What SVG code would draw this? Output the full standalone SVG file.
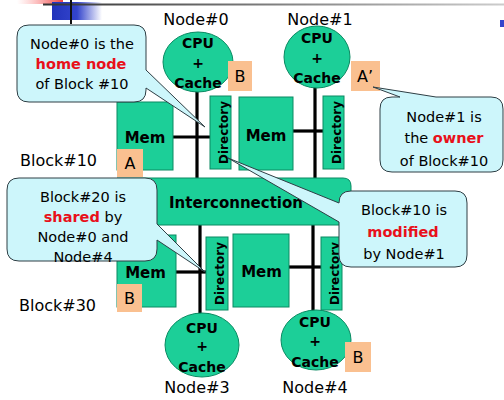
<svg xmlns="http://www.w3.org/2000/svg" width="504" height="400" viewBox="0 0 504 400">
<defs>
<linearGradient id="gLine" x1="0" y1="0" x2="1" y2="0"><stop offset="0" stop-color="#333"/><stop offset="1" stop-color="#ccc"/></linearGradient>
<linearGradient id="gBlue" x1="0" y1="0" x2="1" y2="0"><stop offset="0" stop-color="#2233bb"/><stop offset="0.5" stop-color="#3344cc"/><stop offset="1" stop-color="#3344cc" stop-opacity="0"/></linearGradient>
<linearGradient id="gRed" x1="0" y1="0" x2="1" y2="0"><stop offset="0" stop-color="#ff8888" stop-opacity="0"/><stop offset="1" stop-color="#ee4444"/></linearGradient>
</defs>
<style>
.g{fill:#1ccf98;stroke:#0a8a62;stroke-width:1}
.o{fill:#fac090}
.w{stroke:#000;stroke-width:3.2;fill:none}
.t{font-family:"DejaVu Sans",Verdana,sans-serif;fill:#000}
.b{font-family:"DejaVu Sans",Verdana,sans-serif;font-weight:bold;fill:#000}
.lab{font-size:16px}
.cpu{font-size:14px;text-anchor:middle}
.mem{font-size:15px;text-anchor:middle}
.dir{font-size:12px;text-anchor:middle}
.co{fill:#cdf6fb;stroke:#2e3e44;stroke-width:1}
.ct{font-size:14.5px;text-anchor:middle}
.red{fill:#e8101a;font-weight:bold}
</style>
<g id="decor">
<rect x="17" y="0" width="46" height="4" fill="url(#gRed)"/>
<rect x="52" y="2" width="50" height="18" fill="url(#gBlue)"/>
<rect x="43" y="3.5" width="461" height="2" fill="url(#gLine)"/>
<rect x="70" y="0" width="2" height="24" fill="#111"/>
<rect x="500" y="20" width="4" height="7" fill="#3344cc"/>
</g>
<g id="connectors">
<line class="w" x1="197" y1="90" x2="197" y2="179"/>
<line class="w" x1="173" y1="137" x2="210" y2="137"/>
<line class="w" x1="315" y1="86" x2="315" y2="179"/>
<line class="w" x1="293" y1="131" x2="323" y2="131"/>
<line class="w" x1="200" y1="224" x2="200" y2="316"/>
<line class="w" x1="176" y1="272" x2="206" y2="272"/>
<line class="w" x1="313" y1="224" x2="313" y2="312"/>
<line class="w" x1="289" y1="267" x2="321" y2="267"/>
</g>
<g id="interconnect">
<path class="g" d="M117,178 H343 Q351,178 351,186 V225 H117 Z"/>
<text class="b mem" x="236" y="208">Interconnection</text>
</g>
<g id="node0">
<text class="t lab" x="196" y="25" text-anchor="middle">Node#0</text>
<ellipse class="g" cx="198" cy="62" rx="35" ry="30"/>
<text class="b cpu" x="198" y="48">CPU</text>
<text class="b cpu" x="198" y="68">+</text>
<text class="b cpu" x="198" y="88">Cache</text>
<rect class="o" x="228" y="61" width="24" height="30"/>
<text class="t lab" x="240" y="82" text-anchor="middle">B</text>
<rect class="g" x="117" y="102" width="56" height="68"/>
<text class="b mem" x="145" y="143">Mem</text>
<rect class="o" x="117" y="149" width="26" height="28"/>
<text class="t lab" x="130" y="169" text-anchor="middle">A</text>
<rect class="g" x="210" y="96" width="21" height="73"/>
<text class="b dir" transform="translate(228,132.5) rotate(-90)">Directory</text>
</g>
<g id="node1">
<text class="t lab" x="320" y="25" text-anchor="middle">Node#1</text>
<ellipse class="g" cx="317" cy="57" rx="33" ry="31"/>
<text class="b cpu" x="317" y="43">CPU</text>
<text class="b cpu" x="317" y="62.5">+</text>
<text class="b cpu" x="317" y="83">Cache</text>
<rect class="o" x="351" y="61" width="29" height="30"/>
<text class="t lab" x="365" y="82" text-anchor="middle">A’</text>
<rect class="g" x="239" y="97" width="54" height="73"/>
<text class="b mem" x="266" y="141">Mem</text>
<rect class="g" x="323" y="96" width="21" height="73"/>
<text class="b dir" transform="translate(341,132.5) rotate(-90)">Directory</text>
</g>
<g id="node3">
<text class="t lab" x="197" y="393" text-anchor="middle">Node#3</text>
<ellipse class="g" cx="202" cy="345" rx="37" ry="32"/>
<text class="b cpu" x="202" y="333">CPU</text>
<text class="b cpu" x="202" y="351">+</text>
<text class="b cpu" x="202" y="372">Cache</text>
<rect class="g" x="117" y="235" width="59" height="72"/>
<text class="b mem" x="145.5" y="278">Mem</text>
<rect class="o" x="117" y="284" width="25" height="28"/>
<text class="t lab" x="129.5" y="304" text-anchor="middle">B</text>
<rect class="g" x="206" y="237" width="22" height="73"/>
<text class="b dir" transform="translate(224,273.5) rotate(-90)">Directory</text>
</g>
<g id="node4">
<text class="t lab" x="315" y="393" text-anchor="middle">Node#4</text>
<ellipse class="g" cx="316" cy="340" rx="35" ry="30"/>
<text class="b cpu" x="315" y="327">CPU</text>
<text class="b cpu" x="315" y="346">+</text>
<text class="b cpu" x="315" y="367">Cache</text>
<rect class="o" x="345" y="342" width="26" height="30"/>
<text class="t lab" x="358" y="363" text-anchor="middle">B</text>
<rect class="g" x="233" y="234" width="56" height="73"/>
<text class="b mem" x="261.5" y="277">Mem</text>
<rect class="g" x="321" y="237" width="21" height="73"/>
<text class="b dir" transform="translate(339,273.5) rotate(-90)">Directory</text>
</g>
<g id="labels">
<text class="t lab" x="20" y="166">Block#10</text>
<text class="t lab" x="19" y="311">Block#30</text>
</g>
<g id="callout-home">
<path class="co" d="M29,25 H134 Q146,25 146,37 V70 L205,127 L146,88 V90 Q146,102 134,102 H29 Q17,102 17,90 V37 Q17,25 29,25 Z"/>
<text class="t ct" x="82" y="49">Node#0 is the</text>
<text class="t ct red" x="81" y="69">home node</text>
<text class="t ct" x="82" y="89">of Block #10</text>
</g>
<g id="callout-owner">
<path class="co" d="M392,97 H400 L373,87 L436,97 H491 Q503,97 503,109 V160 Q503,172 491,172 H392 Q380,172 380,160 V109 Q380,97 392,97 Z"/>
<text class="t ct" x="444" y="122">Node#1 is</text>
<text class="t ct" x="444" y="143">the <tspan class="red">owner</tspan></text>
<text class="t ct" x="444" y="166">of Block#10</text>
</g>
<g id="callout-shared">
<path class="co" d="M19,178 H145 Q157,178 157,190 V224 L205,272 L157,240 V249 Q157,261 145,261 H19 Q7,261 7,249 V190 Q7,178 19,178 Z"/>
<text class="t ct" x="83" y="202">Block#20 is</text>
<text class="t ct" x="83" y="222"><tspan class="red">shared</tspan> by</text>
<text class="t ct" x="83" y="242">Node#0 and</text>
<text class="t ct" x="83" y="262">Node#4</text>
</g>
<g id="callout-modified">
<path class="co" d="M351,191 H455 Q467,191 467,203 V255 Q467,267 455,267 H351 Q339,267 339,255 V222 L228,158 L339,203 Q339,191 351,191 Z"/>
<text class="t ct" x="404" y="215">Block#10 is</text>
<text class="t ct red" x="403" y="237">modified</text>
<text class="t ct" x="404" y="259">by Node#1</text>
</g>
</svg>
